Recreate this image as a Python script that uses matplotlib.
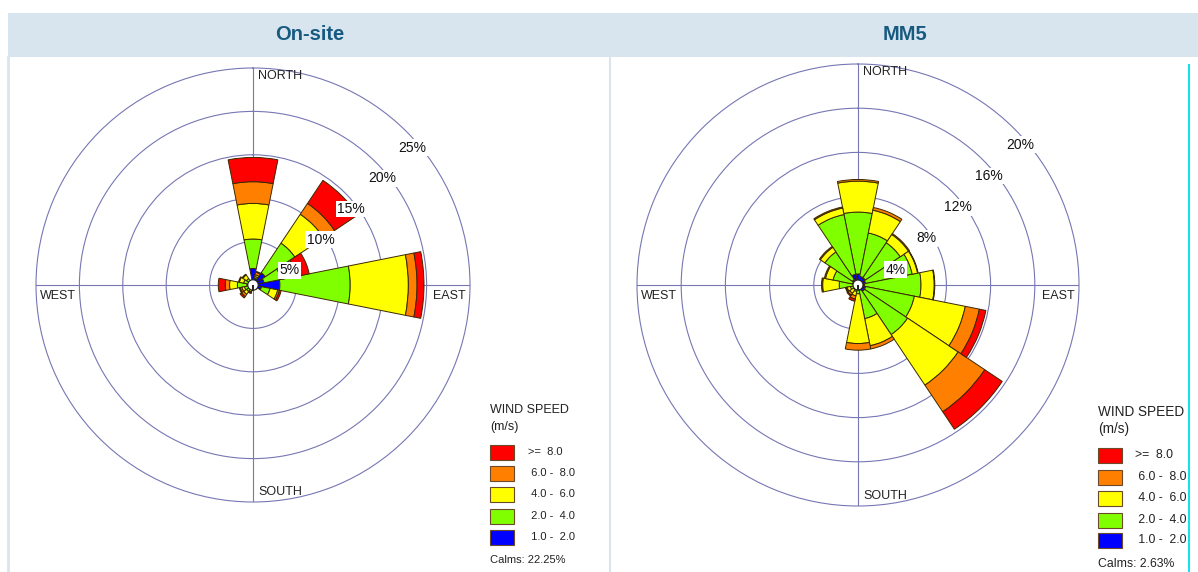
import numpy as np
import matplotlib.pyplot as plt
from matplotlib.patches import Rectangle
from matplotlib.lines import Line2D

plt.rcParams['font.family'] = ['Liberation Sans', 'DejaVu Sans']

W, H = 1198, 572

# 16 compass sectors, clockwise from north
directions = np.arange(16) * 22.5

speed_labels = ['>=  8.0', ' 6.0 -  8.0', ' 4.0 -  6.0', ' 2.0 -  4.0', ' 1.0 -  2.0']
speed_colors = ['#ff0000', '#ff8000', '#ffff00', '#80ff00', '#0000ff']

# On-site station, frequency (%) per sector and speed class
onsite_1_2 = [1.9, 0.8, 1.7, 1.3, 3.1, 1.0, 0.3, 0.2, 0.2, 0.3, 0.4, 0.5, 0.7, 0.5, 0.4, 0.3]
onsite_2_4 = [3.4, 0.2, 4.1, 2.0, 8.1, 1.0, 0.2, 0.1, 0.1, 0.3, 0.5, 0.5, 1.1, 0.6, 0.5, 0.2]
onsite_4_6 = [4.1, 0.2, 4.0, 1.3, 6.7, 0.9, 0.1, 0.0, 0.0, 0.2, 0.4, 0.3, 0.9, 0.5, 0.5, 0.1]
onsite_6_8 = [2.5, 0.3, 1.5, 0.5, 1.0, 0.2, 0.0, 0.0, 0.0, 0.1, 0.3, 0.2, 0.5, 0.1, 0.1, 0.0]
onsite_8up = [2.8, 0.1, 3.2, 1.5, 0.8, 0.2, 0.0, 0.0, 0.0, 0.1, 0.2, 0.1, 0.8, 0.0, 0.0, 0.0]
onsite_calms = 22.25

# MM5 model output, frequency (%) per sector and speed class
mm5_1_2 = [1.0, 0.8, 0.8, 0.7, 0.6, 0.7, 0.7, 0.5, 0.3, 0.2, 0.2, 0.3, 0.4, 0.5, 0.6, 1.0]
mm5_2_4 = [5.6, 4.0, 3.8, 4.3, 5.1, 4.5, 4.7, 2.6, 0.5, 0.4, 0.3, 0.4, 1.3, 1.8, 3.0, 5.5]
mm5_4_6 = [2.8, 2.1, 0.9, 0.5, 1.2, 4.7, 5.5, 2.5, 4.5, 0.4, 0.4, 0.3, 1.5, 0.7, 0.5, 0.6]
mm5_6_8 = [0.15, 0.25, 0.1, 0.05, 0.05, 1.3, 2.9, 0.3, 0.6, 0.3, 0.2, 0.1, 0.1, 0.1, 0.1, 0.1]
mm5_8up = [0.0, 0.0, 0.0, 0.0, 0.0, 0.6, 1.9, 0.0, 0.0, 0.2, 0.1, 0.05, 0.0, 0.0, 0.0, 0.0]
mm5_calms = 2.63

onsite_rings = [5, 10, 15, 20, 25]
mm5_rings = [4, 8, 12, 16, 20]

grid_color = '#7777b4'
edge_color = '#3a2800'


def px(x, y):
    return x / W, 1 - y / H


def draw_rose(ax, classes, rings, calm_r):
    ax.set_theta_zero_location('N')
    ax.set_theta_direction(-1)
    theta = np.radians(directions)
    width = np.radians(22.5)

    bottom = np.zeros(16)
    # stack from the slowest class outwards
    for vals, color in zip(classes, speed_colors[::-1]):
        vals = np.asarray(vals, dtype=float)
        keep = vals > 0
        ax.bar(theta[keep], vals[keep], width=width, bottom=bottom[keep],
               color=color, edgecolor=edge_color, linewidth=0.7, zorder=3)
        bottom += vals

    ax.bar(0, calm_r, width=2 * np.pi, bottom=0, color='white',
           edgecolor='#222222', linewidth=0.8, zorder=4)

    rmax = rings[-1]
    ax.set_ylim(0, rmax)
    ax.set_yticks(rings[:-1])
    ax.set_yticklabels([])
    ax.set_xticks(np.radians([0, 90, 180, 270]))
    ax.set_xticklabels([])
    ax.grid(True, color=grid_color, linewidth=0.8)
    ax.spines['polar'].set_color(grid_color)
    ax.spines['polar'].set_linewidth(0.8)

    for r in rings:
        ax.annotate(f'{r}%', xy=(np.radians(45), r), xytext=(6, -16),
                    textcoords='offset pixels', ha='center', va='center',
                    fontsize=10, color='#111111', zorder=6, annotation_clip=False,
                    bbox=dict(boxstyle='square,pad=0.1', fc='white', ec='none'))

    compass = [('NORTH', 0, (5, -8), 'left'), ('SOUTH', 180, (5, 10), 'left'),
               ('WEST', 270, (4, -11), 'left'), ('EAST', 90, (-4, -11), 'right')]
    for name, ang, off, ha in compass:
        ax.annotate(name, xy=(np.radians(ang), rmax), xytext=off,
                    textcoords='offset pixels', ha=ha, va='center',
                    fontsize=9, color='#222222', zorder=6, annotation_clip=False)


def draw_legend(fig, x, title_y, rows_y, label_x, calms_y, calms, fs=8):
    fig.text(*px(x, title_y), 'WIND SPEED', fontsize=fs + 1, color='#222222',
             ha='left', va='center')
    fig.text(*px(x, title_y + 17), '(m/s)', fontsize=fs + 1, color='#222222',
             ha='left', va='center')
    for y, color, lab in zip(rows_y, speed_colors, speed_labels):
        x0, y0 = px(x, y + 7.5)
        fig.patches.append(Rectangle((x0, y0), 24 / W, 15 / H, transform=fig.transFigure,
                                     facecolor=color, edgecolor='#6b4a2a', linewidth=0.8))
        fig.text(*px(label_x, y), lab, fontsize=fs, color='#222222', ha='left', va='center')
    fig.text(*px(x, calms_y), f'Calms: {calms:.2f}%', fontsize=fs, color='#222222',
             ha='left', va='center')


fig = plt.figure(figsize=(W / 100, H / 100), dpi=100)
fig.patch.set_facecolor('white')

# header band with panel titles
band_x0, band_y0 = px(8, 57)
fig.patches.append(Rectangle((band_x0, band_y0), 1 - band_x0, 44 / H,
                             transform=fig.transFigure, facecolor='#d8e5ef',
                             edgecolor='none', zorder=0))
fig.text(*px(310, 35), 'On-site', fontsize=14.5, fontweight='bold', color='#165a80',
         ha='center', va='center')
fig.text(*px(905, 35), 'MM5', fontsize=14.5, fontweight='bold', color='#165a80',
         ha='center', va='center')

# panel borders
for xv, color, y_top, lw in [(8, '#d8e5ef', 57, 2.0), (610, '#d8e5ef', 57, 1.5),
                             (1189, '#18e0f0', 65, 1.5)]:
    fig.lines.append(Line2D([xv / W, xv / W], [0, 1 - y_top / H], transform=fig.transFigure,
                            color=color, linewidth=lw, zorder=10))

# left rose: centre (253, 285), radius 217 px
ax1 = fig.add_axes([(253 - 217) / W, (H - 285 - 217) / H, 434 / W, 434 / H], projection='polar')
draw_rose(ax1, [onsite_1_2, onsite_2_4, onsite_4_6, onsite_6_8, onsite_8up],
          onsite_rings, 0.6)

# right rose: centre (858, 285), radius 221 px
ax2 = fig.add_axes([(858 - 221) / W, (H - 285 - 221) / H, 442 / W, 442 / H], projection='polar')
draw_rose(ax2, [mm5_1_2, mm5_2_4, mm5_4_6, mm5_6_8, mm5_8up],
          mm5_rings, 0.45)

draw_legend(fig, 490, 410, [452, 473, 494, 516, 537], 528, 560, onsite_calms)
draw_legend(fig, 1098, 412, [455, 477, 498, 520, 540], 1135, 564, mm5_calms, fs=8.8)

# white strip to the right of the frame line
x0, _ = px(1190, 0)
fig.patches.append(Rectangle((x0, 0), 1 - x0, 1 - 57 / H, transform=fig.transFigure,
                             facecolor='white', edgecolor='none', zorder=9))

fig.savefig('out.png', dpi=100)
